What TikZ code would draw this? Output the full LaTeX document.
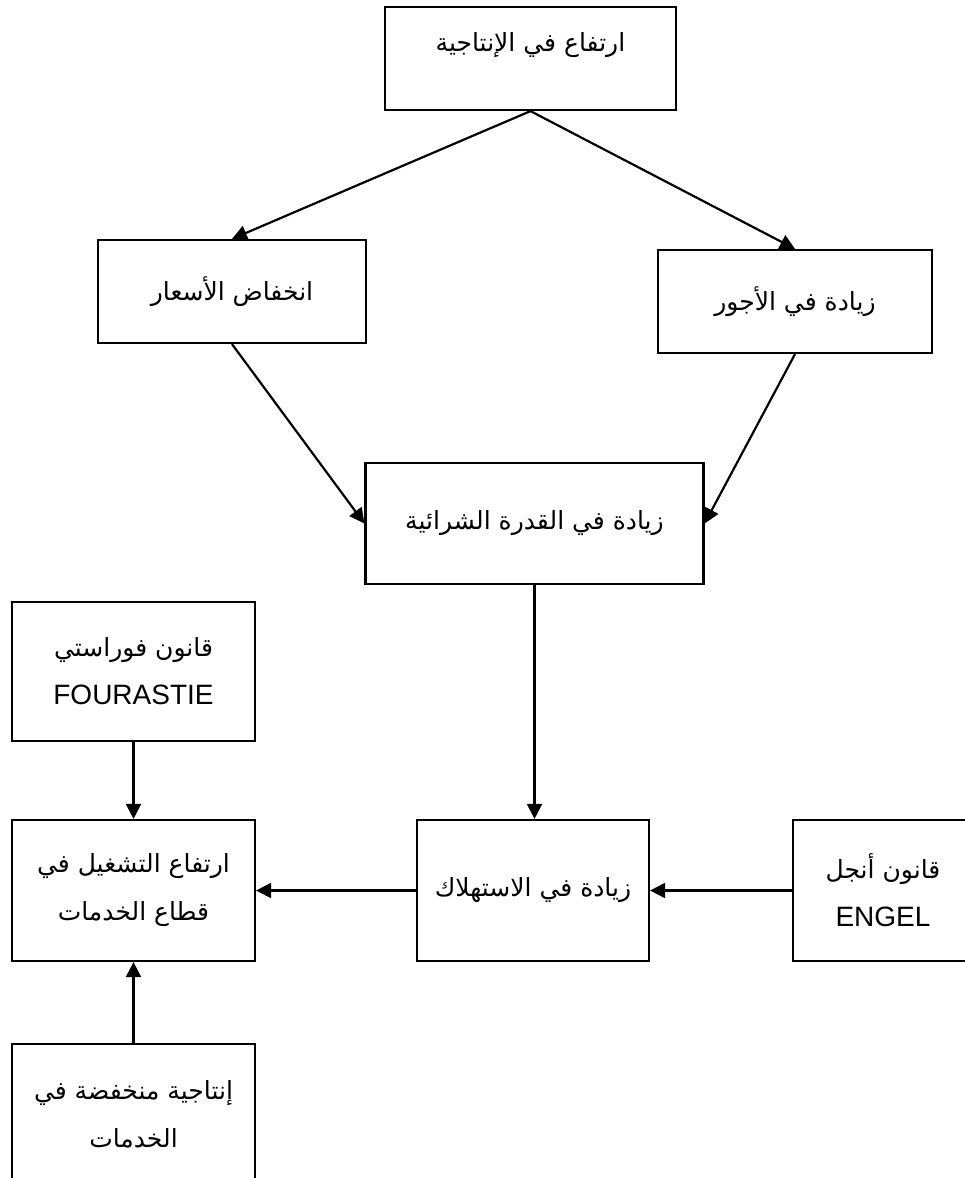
\documentclass[tikz,border=0pt]{standalone}
\usepackage{fontspec}
\setmainfont{Liberation Sans}
\newfontfamily\arabicfont[Script=Arabic]{DejaVu Sans}
\TeXXeTstate=1
\usetikzlibrary{arrows.meta}
\newcommand{\artxt}[1]{{\fontsize{25}{48}\arabicfont\beginR #1\endR}}
\tikzset{
  box/.style={draw=black, line width=2.2pt, rectangle, inner sep=0pt, align=center,
    font=\fontsize{28}{48}\selectfont},
  conn/.style={draw=black, line width=2.2pt, -{Triangle[length=15pt,width=15pt]}},
  lbl/.style={inner sep=0pt, align=center, font=\fontsize{28}{48}\selectfont}
}
\begin{document}
\begin{tikzpicture}[x=1pt,y=-1pt]
\useasboundingbox (0,0) rectangle (965,1178);
\clip (0,0) rectangle (965,1178);
\fill[white] (0,0) rectangle (965,1178);
% boxes
\node[box, minimum width=291pt, minimum height=103pt] (top) at (530.5,58.5) {};
\node[lbl] (toptext) at (530.5,45) {\artxt{ارتفاع في الإنتاجية}};
\node[box, minimum width=268pt, minimum height=103pt] (prices) at (232,291.5) {\artxt{انخفاض الأسعار}};
\node[box, minimum width=274pt, minimum height=103pt] (wages) at (795,301.5) {\artxt{زيادة في الأجور}};
\node[box, minimum width=338pt, minimum height=121pt] (power) at (534.5,523.5) {\artxt{زيادة في القدرة الشرائية}};
\node[box, minimum width=243pt, minimum height=139pt] (four) at (133.5,671.5) {\artxt{قانون فوراستي}\\FOURASTIE};
\node[box, minimum width=243pt, minimum height=141pt] (emp) at (133.5,890.5) {\artxt{ارتفاع التشغيل في}\\\artxt{قطاع الخدمات}};
\node[box, minimum width=232pt, minimum height=141pt] (cons) at (533,890.5) {\artxt{زيادة في الاستهلاك}};
\node[box, minimum width=180pt, minimum height=141pt] (engel) at (883,890.5) {\artxt{قانون أنجل}\\ENGEL};
\node[box, minimum width=243pt, minimum height=141pt] (low) at (133.5,1114.5) {\artxt{إنتاجية منخفضة في}\\\artxt{الخدمات}};
% connectors
\draw[conn] (top.south) -- (prices.north);
\draw[conn] (top.south) -- (wages.north);
\draw[conn] (prices.south) -- (power.west);
\draw[conn] (wages.south) -- (power.east);
\draw[conn] (power.south) -- (power.south |- cons.north);
\draw[conn] (four.south) -- (emp.north);
\draw[conn] (engel.west) -- (cons.east);
\draw[conn] (cons.west) -- (emp.east);
\draw[conn] (low.north) -- (emp.south);
\end{tikzpicture}
\end{document}
